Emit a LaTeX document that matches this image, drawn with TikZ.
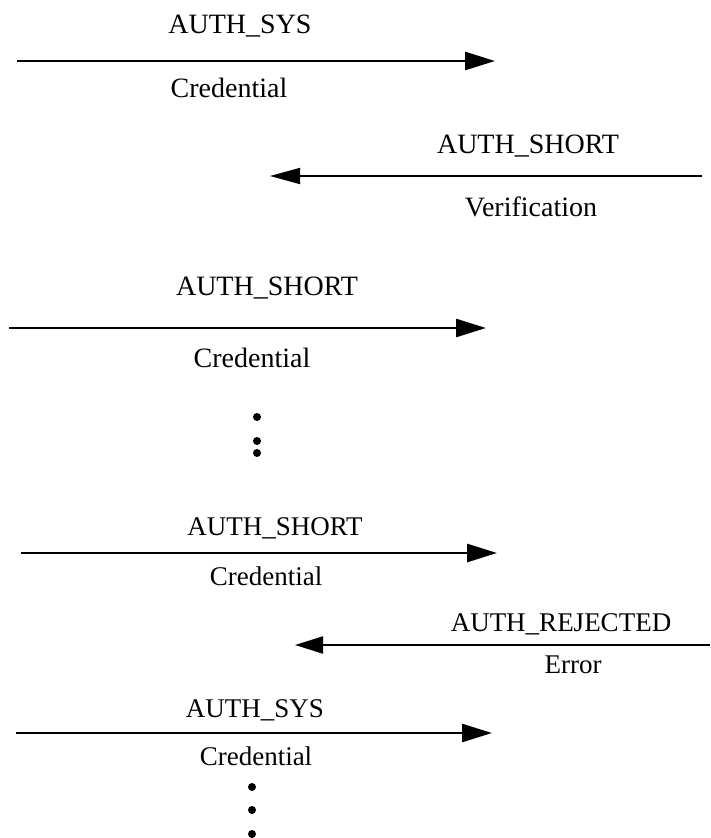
\documentclass[tikz,border=0pt]{standalone}
\usepackage{fontspec}
\setmainfont{Liberation Serif}
\usetikzlibrary{arrows.meta}
\begin{document}
\begin{tikzpicture}[x=1pt,y=-1pt,
  lbl/.style={anchor=base,inner sep=0pt,font=\fontsize{28}{30}\selectfont},
  lbls/.style={anchor=base,inner sep=0pt,font=\fontsize{27}{29}\selectfont},
  msg/.style={line width=2.8pt,-{Triangle[length=30pt,width=18pt]}},
  msgthin/.style={line width=1.7pt,-{Triangle[length=30pt,width=16pt]}},
  dot/.style={circle,fill=black,inner sep=0pt,minimum size=8pt}]
\useasboundingbox (0,0) rectangle (710,838);
% arrow 1
\coordinate (a1s) at (17,61);
\coordinate (a1e) at (495,61);
\draw[msg] (a1s) -- (a1e);
\node[lbl] (a1t) at (240,33) {AUTH\_SYS};
\node[lbl] (a1b) at (229,97) {Credential};
% arrow 2
\coordinate (a2s) at (702,176);
\coordinate (a2e) at (270,176);
\draw[msgthin] (a2s) -- (a2e);
\node[lbl] (a2t) at (528,153) {AUTH\_SHORT};
\node[lbl] (a2b) at (531,216) {Verification};
% arrow 3
\coordinate (a3s) at (9,328);
\coordinate (a3e) at (486,328);
\draw[msg] (a3s) -- (a3e);
\node[lbl] (a3t) at (267,295) {AUTH\_SHORT};
\node[lbl] (a3b) at (252,367) {Credential};
% dots
\node[dot] (d1) at (257,417) {};
\node[dot] (d2) at (257,441) {};
\node[dot] (d3) at (257,453) {};
% arrow 4
\coordinate (a4s) at (21,553);
\coordinate (a4e) at (497,553);
\draw[msg] (a4s) -- (a4e);
\node[lbls] (a4t) at (275,535) {AUTH\_SHORT};
\node[lbls] (a4b) at (266,585) {Credential};
% arrow 5
\coordinate (a5s) at (710,645);
\coordinate (a5e) at (295,645);
\draw[msgthin,line width=2pt,-{Triangle[length=28pt,width=17pt]}] (a5s) -- (a5e);
\node[lbls] (a5t) at (561,631) {AUTH\_REJECTED};
\node[lbls] (a5b) at (573,673) {Error};
% arrow 6
\coordinate (a6s) at (16,733);
\coordinate (a6e) at (492,733);
\draw[msg] (a6s) -- (a6e);
\node[lbls] (a6t) at (255,717) {AUTH\_SYS};
\node[lbls] (a6b) at (256,765) {Credential};
% dots
\node[dot] (e1) at (252,787) {};
\node[dot] (e2) at (252,810) {};
\node[dot] (e3) at (252,834) {};
\end{tikzpicture}
\end{document}
